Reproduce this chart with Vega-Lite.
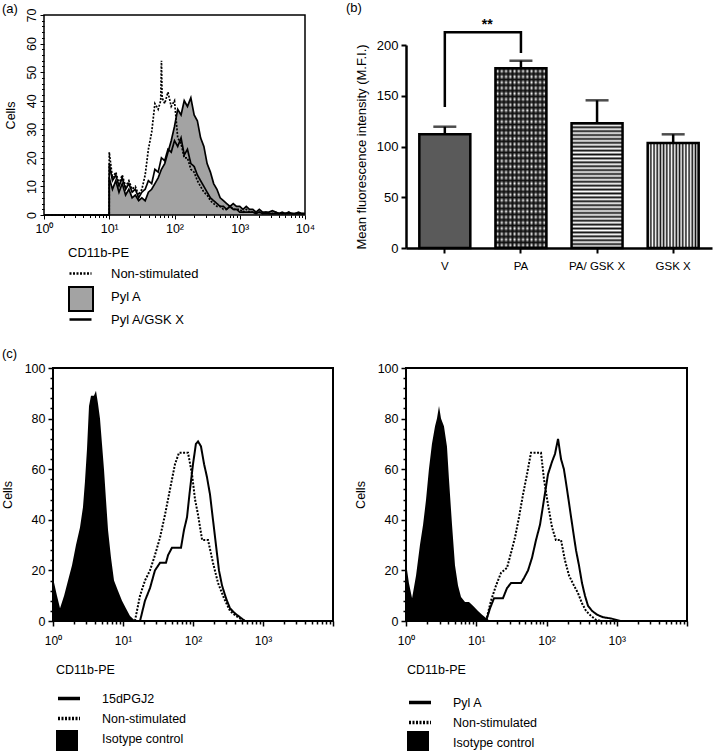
{
"$schema": "https://vega.github.io/schema/vega-lite/v6.json",
"autosize": {"type": "none"},
"padding": {"left": 44, "top": 15, "right": 672, "bottom": 736},
"background": "white",
"config": {
  "font": "Liberation Sans",
  "view": {"stroke": null},
  "axis": {"grid": false, "domainColor": "black", "tickColor": "black", "labelColor": "black", "titleColor": "black", "titleFontWeight": "normal", "labelOverlap": false, "labelFlush": false},
  "legend": {"padding": 0, "labelColor": "black", "titleColor": "black", "titleFontWeight": "normal"},
  "title": {"fontWeight": "normal", "color": "black", "fontSize": 13, "anchor": "start", "frame": "group", "offset": 0}
},
"columns": 2,
"align": "each",
"spacing": {"row": 120, "column": 73},
"bounds": "flush",
"resolve": {"scale": {"strokeDash": "independent", "fill": "independent"}, "legend": {"strokeDash": "independent", "fill": "independent"}},
"concat": [
 {
  "width": 261, "height": 200,
  "title": {"text": "(a)", "dx": -42, "dy": 12},
  "data": {"values": [
   {"s":"Non-stimulated","x":1,"y":0},{"s":"Non-stimulated","x":9.99,"y":0},{"s":"Non-stimulated","x":10,"y":22},{"s":"Non-stimulated","x":11.2,"y":13},{"s":"Non-stimulated","x":12.6,"y":15},{"s":"Non-stimulated","x":14.1,"y":11},{"s":"Non-stimulated","x":15.8,"y":14},{"s":"Non-stimulated","x":17.8,"y":10},{"s":"Non-stimulated","x":20,"y":12},{"s":"Non-stimulated","x":22.4,"y":9},{"s":"Non-stimulated","x":25.1,"y":10},{"s":"Non-stimulated","x":28.2,"y":7},{"s":"Non-stimulated","x":31.6,"y":9},{"s":"Non-stimulated","x":35.5,"y":14},{"s":"Non-stimulated","x":39.8,"y":23},{"s":"Non-stimulated","x":44.7,"y":29},{"s":"Non-stimulated","x":50.1,"y":39},{"s":"Non-stimulated","x":56.2,"y":37},{"s":"Non-stimulated","x":61.5,"y":40},{"s":"Non-stimulated","x":63.1,"y":54},{"s":"Non-stimulated","x":64.6,"y":41},{"s":"Non-stimulated","x":70.8,"y":39},{"s":"Non-stimulated","x":79.4,"y":43},{"s":"Non-stimulated","x":89.1,"y":38},{"s":"Non-stimulated","x":100,"y":40},{"s":"Non-stimulated","x":112,"y":27},{"s":"Non-stimulated","x":126,"y":25},{"s":"Non-stimulated","x":141,"y":20},{"s":"Non-stimulated","x":158,"y":20},{"s":"Non-stimulated","x":178,"y":16},{"s":"Non-stimulated","x":200,"y":15},{"s":"Non-stimulated","x":224,"y":12},{"s":"Non-stimulated","x":251,"y":10},{"s":"Non-stimulated","x":282,"y":8},{"s":"Non-stimulated","x":316,"y":7},{"s":"Non-stimulated","x":355,"y":5},{"s":"Non-stimulated","x":398,"y":4},{"s":"Non-stimulated","x":447,"y":3},{"s":"Non-stimulated","x":501,"y":3},{"s":"Non-stimulated","x":562,"y":2},{"s":"Non-stimulated","x":631,"y":2},{"s":"Non-stimulated","x":708,"y":3},{"s":"Non-stimulated","x":794,"y":2},{"s":"Non-stimulated","x":891,"y":2},{"s":"Non-stimulated","x":1000,"y":2},{"s":"Non-stimulated","x":1122,"y":1},{"s":"Non-stimulated","x":1259,"y":2},{"s":"Non-stimulated","x":1413,"y":1},{"s":"Non-stimulated","x":1585,"y":1},{"s":"Non-stimulated","x":1778,"y":1},{"s":"Non-stimulated","x":1995,"y":1},{"s":"Non-stimulated","x":2239,"y":0.5},{"s":"Non-stimulated","x":2512,"y":1},{"s":"Non-stimulated","x":2818,"y":0.5},{"s":"Non-stimulated","x":3162,"y":0.5},{"s":"Non-stimulated","x":3548,"y":1},{"s":"Non-stimulated","x":3981,"y":0.5},{"s":"Non-stimulated","x":4467,"y":0.5},{"s":"Non-stimulated","x":5012,"y":0.5},{"s":"Non-stimulated","x":5623,"y":1},{"s":"Non-stimulated","x":6310,"y":0.5},{"s":"Non-stimulated","x":7079,"y":0.5},{"s":"Non-stimulated","x":7943,"y":0.5},{"s":"Non-stimulated","x":8913,"y":0.5},{"s":"Non-stimulated","x":10000,"y":0.5},
   {"s":"Pyl A","x":1,"y":0},{"s":"Pyl A","x":9.99,"y":0},{"s":"Pyl A","x":10,"y":13},{"s":"Pyl A","x":11.2,"y":9},{"s":"Pyl A","x":12.6,"y":12},{"s":"Pyl A","x":14.1,"y":8},{"s":"Pyl A","x":15.8,"y":11},{"s":"Pyl A","x":17.8,"y":7},{"s":"Pyl A","x":20,"y":9},{"s":"Pyl A","x":22.4,"y":6},{"s":"Pyl A","x":25.1,"y":7},{"s":"Pyl A","x":28.2,"y":5},{"s":"Pyl A","x":31.6,"y":6},{"s":"Pyl A","x":35.5,"y":5},{"s":"Pyl A","x":39.8,"y":8},{"s":"Pyl A","x":44.7,"y":9},{"s":"Pyl A","x":50.1,"y":11},{"s":"Pyl A","x":56.2,"y":13},{"s":"Pyl A","x":63.1,"y":16},{"s":"Pyl A","x":70.8,"y":18},{"s":"Pyl A","x":79.4,"y":22},{"s":"Pyl A","x":89.1,"y":26},{"s":"Pyl A","x":100,"y":31},{"s":"Pyl A","x":112,"y":37},{"s":"Pyl A","x":126,"y":35},{"s":"Pyl A","x":141,"y":40},{"s":"Pyl A","x":158,"y":38},{"s":"Pyl A","x":178,"y":41},{"s":"Pyl A","x":200,"y":35},{"s":"Pyl A","x":224,"y":33},{"s":"Pyl A","x":251,"y":27},{"s":"Pyl A","x":282,"y":24},{"s":"Pyl A","x":316,"y":18},{"s":"Pyl A","x":355,"y":15},{"s":"Pyl A","x":398,"y":11},{"s":"Pyl A","x":447,"y":9},{"s":"Pyl A","x":501,"y":6},{"s":"Pyl A","x":562,"y":5},{"s":"Pyl A","x":631,"y":4},{"s":"Pyl A","x":708,"y":3},{"s":"Pyl A","x":794,"y":4},{"s":"Pyl A","x":891,"y":3},{"s":"Pyl A","x":1000,"y":3},{"s":"Pyl A","x":1122,"y":2},{"s":"Pyl A","x":1259,"y":3},{"s":"Pyl A","x":1413,"y":2},{"s":"Pyl A","x":1585,"y":2},{"s":"Pyl A","x":1778,"y":1},{"s":"Pyl A","x":1995,"y":2},{"s":"Pyl A","x":2239,"y":1},{"s":"Pyl A","x":2512,"y":1},{"s":"Pyl A","x":2818,"y":1},{"s":"Pyl A","x":3162,"y":1.5},{"s":"Pyl A","x":3548,"y":1},{"s":"Pyl A","x":3981,"y":0.5},{"s":"Pyl A","x":4467,"y":1},{"s":"Pyl A","x":5012,"y":0.5},{"s":"Pyl A","x":5623,"y":1},{"s":"Pyl A","x":6310,"y":0.5},{"s":"Pyl A","x":7079,"y":0.5},{"s":"Pyl A","x":7943,"y":1},{"s":"Pyl A","x":8913,"y":0.5},{"s":"Pyl A","x":10000,"y":0.5},
   {"s":"Pyl A/GSK X","x":1,"y":0},{"s":"Pyl A/GSK X","x":9.99,"y":0},{"s":"Pyl A/GSK X","x":10,"y":18},{"s":"Pyl A/GSK X","x":11.2,"y":12},{"s":"Pyl A/GSK X","x":12.6,"y":14},{"s":"Pyl A/GSK X","x":14.1,"y":10},{"s":"Pyl A/GSK X","x":15.8,"y":13},{"s":"Pyl A/GSK X","x":17.8,"y":9},{"s":"Pyl A/GSK X","x":20,"y":11},{"s":"Pyl A/GSK X","x":22.4,"y":8},{"s":"Pyl A/GSK X","x":25.1,"y":9},{"s":"Pyl A/GSK X","x":28.2,"y":6},{"s":"Pyl A/GSK X","x":31.6,"y":8},{"s":"Pyl A/GSK X","x":35.5,"y":9},{"s":"Pyl A/GSK X","x":39.8,"y":12},{"s":"Pyl A/GSK X","x":44.7,"y":11},{"s":"Pyl A/GSK X","x":50.1,"y":16},{"s":"Pyl A/GSK X","x":56.2,"y":15},{"s":"Pyl A/GSK X","x":63.1,"y":20},{"s":"Pyl A/GSK X","x":70.8,"y":19},{"s":"Pyl A/GSK X","x":79.4,"y":23},{"s":"Pyl A/GSK X","x":89.1,"y":22},{"s":"Pyl A/GSK X","x":100,"y":26},{"s":"Pyl A/GSK X","x":112,"y":24},{"s":"Pyl A/GSK X","x":126,"y":27},{"s":"Pyl A/GSK X","x":141,"y":21},{"s":"Pyl A/GSK X","x":158,"y":23},{"s":"Pyl A/GSK X","x":178,"y":18},{"s":"Pyl A/GSK X","x":200,"y":17},{"s":"Pyl A/GSK X","x":224,"y":14},{"s":"Pyl A/GSK X","x":251,"y":12},{"s":"Pyl A/GSK X","x":282,"y":10},{"s":"Pyl A/GSK X","x":316,"y":8},{"s":"Pyl A/GSK X","x":355,"y":6},{"s":"Pyl A/GSK X","x":398,"y":5},{"s":"Pyl A/GSK X","x":447,"y":4},{"s":"Pyl A/GSK X","x":501,"y":3},{"s":"Pyl A/GSK X","x":562,"y":3},{"s":"Pyl A/GSK X","x":631,"y":2},{"s":"Pyl A/GSK X","x":708,"y":3},{"s":"Pyl A/GSK X","x":794,"y":2},{"s":"Pyl A/GSK X","x":891,"y":2},{"s":"Pyl A/GSK X","x":1000,"y":1},{"s":"Pyl A/GSK X","x":1122,"y":1},{"s":"Pyl A/GSK X","x":1259,"y":1},{"s":"Pyl A/GSK X","x":1413,"y":1},{"s":"Pyl A/GSK X","x":1585,"y":1},{"s":"Pyl A/GSK X","x":1778,"y":0.5},{"s":"Pyl A/GSK X","x":1995,"y":1},{"s":"Pyl A/GSK X","x":2239,"y":0.5},{"s":"Pyl A/GSK X","x":2512,"y":0.5},{"s":"Pyl A/GSK X","x":2818,"y":0.5},{"s":"Pyl A/GSK X","x":3162,"y":0.5},{"s":"Pyl A/GSK X","x":3548,"y":0.5},{"s":"Pyl A/GSK X","x":3981,"y":0.5},{"s":"Pyl A/GSK X","x":4467,"y":0.5},{"s":"Pyl A/GSK X","x":5012,"y":0.5},{"s":"Pyl A/GSK X","x":5623,"y":0.5},{"s":"Pyl A/GSK X","x":6310,"y":0.5},{"s":"Pyl A/GSK X","x":7079,"y":0.5},{"s":"Pyl A/GSK X","x":7943,"y":0.5},{"s":"Pyl A/GSK X","x":8913,"y":0.5},{"s":"Pyl A/GSK X","x":10000,"y":0.5}
  ]},
  "encoding": {
   "x": {"field": "x", "type": "quantitative", "title": null, "scale": {"type": "log", "domain": [1, 10000], "nice": false},
     "axis": {"values": [1,2,3,4,5,6,7,8,9,10,20,30,40,50,60,70,80,90,100,200,300,400,500,600,700,800,900,1000,2000,3000,4000,5000,6000,7000,8000,9000,10000],
       "labelExpr": "datum.value == 1 ? '10⁰' : datum.value == 10 ? '10¹' : datum.value == 100 ? '10²' : datum.value == 1000 ? '10³' : datum.value == 10000 ? '10⁴' : ''",
       "tickSize": {"condition": {"test": "datum.value == 1 || datum.value == 10 || datum.value == 100 || datum.value == 1000 || datum.value == 10000", "value": 4}, "value": 2.5},
       "tickWidth": 1, "domain": false, "labelFontSize": 12.5, "labelPadding": 3}},
   "y": {"field": "y", "type": "quantitative", "title": "Cells", "scale": {"domain": [0, 70], "nice": false},
     "axis": {"values": [0,2,4,6,8,10,12,14,16,18,20,22,24,26,28,30,32,34,36,38,40,42,44,46,48,50,52,54,56,58,60,62,64,66,68,70],
       "labelExpr": "datum.value % 10 == 0 ? datum.label : ''",
       "labelAngle": -90, "labelAlign": "center", "labelBaseline": "bottom",
       "tickSize": {"condition": {"test": "datum.value % 10 == 0", "value": 4}, "value": 2.5},
       "tickWidth": 1, "domain": false, "labelFontSize": 12.5, "labelPadding": 2, "titleFontSize": 12.5, "titlePadding": 8}}
  },
  "layer": [
   {"transform": [{"filter": "datum.s == 'Pyl A'"}], "mark": {"type": "area", "opacity": 1},
    "encoding": {"fill": {"field": "s", "type": "nominal", "scale": {"domain": ["Pyl A"], "range": ["#a3a3a3"]},
      "legend": {"title": null, "orient": "none", "legendX": 24, "legendY": 271, "symbolType": "square", "symbolSize": 576, "symbolStrokeColor": "black", "symbolStrokeWidth": 2, "labelExpr": "''", "labelFontSize": 13}}}},
   {"transform": [{"filter": "datum.s == 'Pyl A'"}], "mark": {"type": "line", "color": "black", "strokeWidth": 1.7}},
   {"transform": [{"filter": "datum.s != 'Pyl A'"}], "mark": {"type": "line", "color": "black", "strokeWidth": 1.7},
    "encoding": {"strokeDash": {"field": "s", "type": "nominal",
      "scale": {"domain": ["Non-stimulated", "Pyl A", "Pyl A/GSK X"], "range": [[2, 1.5], [0, 100], [1, 0]]},
      "legend": {"title": "CD11b-PE", "orient": "none", "legendX": 24, "legendY": 232, "symbolType": "stroke", "symbolSize": 484, "symbolStrokeWidth": 2.5, "symbolStrokeColor": "black", "labelFontSize": 13, "titleFontSize": 13, "titlePadding": 1, "rowPadding": 3, "labelOffset": 18}}}},
   {"data": {"values": [{"x0": 1, "x1": 10000, "y0": 0, "y1": 70}]},
    "mark": {"type": "rect", "fill": "transparent", "stroke": "black", "strokeWidth": 1.5},
    "encoding": {"x": {"field": "x0", "type": "quantitative", "title": null}, "x2": {"field": "x1"}, "y": {"field": "y0", "type": "quantitative", "title": "Cells"}, "y2": {"field": "y1"}}}
  ]
 },
 {
  "width": 306, "height": 233,
  "title": {"text": "(b)", "dx": -60, "dy": 4},
  "data": {"values": [{"g":"V","m":112,"u":119.5},{"g":"PA","m":177,"u":184.5},{"g":"PA/ GSK X","m":122.8,"u":145.5},{"g":"GSK X","m":103.5,"u":112}]},
  "encoding": {
   "x": {"field": "g", "type": "nominal", "title": null, "sort": null, "scale": {"domain": ["V", "PA", "PA/ GSK X", "GSK X"], "paddingInner": 0.33, "paddingOuter": 0.175},
     "axis": {"labelAngle": 0, "labelFontSize": 11.5, "labelPadding": 7, "tickSize": 5, "tickWidth": 2, "domainWidth": 2.5}}
  },
  "layer": [
   {"transform": [{"filter": "datum.g == 'V'"}], "mark": {"type": "bar", "fill": "#5a5a5a", "stroke": "black", "strokeWidth": 2.5},
    "encoding": {"y": {"field": "m", "type": "quantitative", "title": "Mean fluorescence intensity (M.F.I.)", "scale": {"domain": [0, 200], "range": [233, 30], "nice": false},
      "axis": {"values": [0, 50, 100, 150, 200], "tickSize": 5, "tickWidth": 2, "domainWidth": 2.5, "labelFontSize": 13, "labelPadding": 3, "titleFontSize": 13, "titlePadding": 8}}}},
   {"transform": [{"filter": "datum.g == 'PA'"}], "mark": {"type": "bar", "strokeWidth": 0, "fill": {"gradient": "linear", "x1": 0, "y1": 0, "x2": 0, "y2": 1, "stops": [
     {"offset":0,"color":"#111"},{"offset":0.0156,"color":"#fff"},{"offset":0.0313,"color":"#111"},{"offset":0.0469,"color":"#fff"},{"offset":0.0625,"color":"#111"},{"offset":0.0781,"color":"#fff"},{"offset":0.0938,"color":"#111"},{"offset":0.1094,"color":"#fff"},{"offset":0.125,"color":"#111"},{"offset":0.1406,"color":"#fff"},{"offset":0.1563,"color":"#111"},{"offset":0.1719,"color":"#fff"},{"offset":0.1875,"color":"#111"},{"offset":0.2031,"color":"#fff"},{"offset":0.2188,"color":"#111"},{"offset":0.2344,"color":"#fff"},{"offset":0.25,"color":"#111"},{"offset":0.2656,"color":"#fff"},{"offset":0.2813,"color":"#111"},{"offset":0.2969,"color":"#fff"},{"offset":0.3125,"color":"#111"},{"offset":0.3281,"color":"#fff"},{"offset":0.3438,"color":"#111"},{"offset":0.3594,"color":"#fff"},{"offset":0.375,"color":"#111"},{"offset":0.3906,"color":"#fff"},{"offset":0.4063,"color":"#111"},{"offset":0.4219,"color":"#fff"},{"offset":0.4375,"color":"#111"},{"offset":0.4531,"color":"#fff"},{"offset":0.4688,"color":"#111"},{"offset":0.4844,"color":"#fff"},{"offset":0.5,"color":"#111"},{"offset":0.5156,"color":"#fff"},{"offset":0.5313,"color":"#111"},{"offset":0.5469,"color":"#fff"},{"offset":0.5625,"color":"#111"},{"offset":0.5781,"color":"#fff"},{"offset":0.5938,"color":"#111"},{"offset":0.6094,"color":"#fff"},{"offset":0.625,"color":"#111"},{"offset":0.6406,"color":"#fff"},{"offset":0.6563,"color":"#111"},{"offset":0.6719,"color":"#fff"},{"offset":0.6875,"color":"#111"},{"offset":0.7031,"color":"#fff"},{"offset":0.7188,"color":"#111"},{"offset":0.7344,"color":"#fff"},{"offset":0.75,"color":"#111"},{"offset":0.7656,"color":"#fff"},{"offset":0.7813,"color":"#111"},{"offset":0.7969,"color":"#fff"},{"offset":0.8125,"color":"#111"},{"offset":0.8281,"color":"#fff"},{"offset":0.8438,"color":"#111"},{"offset":0.8594,"color":"#fff"},{"offset":0.875,"color":"#111"},{"offset":0.8906,"color":"#fff"},{"offset":0.9063,"color":"#111"},{"offset":0.9219,"color":"#fff"},{"offset":0.9375,"color":"#111"},{"offset":0.9531,"color":"#fff"},{"offset":0.9688,"color":"#111"},{"offset":0.9844,"color":"#fff"},{"offset":1,"color":"#111"}]}},
    "encoding": {"y": {"field": "m", "type": "quantitative", "title": "Mean fluorescence intensity (M.F.I.)"}}},
   {"transform": [{"filter": "datum.g == 'PA'"}], "mark": {"type": "bar", "stroke": "black", "strokeWidth": 2.5, "fill": {"gradient": "linear", "x1": 0, "y1": 0, "x2": 1, "y2": 0, "stops": [
     {"offset":0,"color":"#111"},{"offset":0.0417,"color":"rgba(0,0,0,0)"},{"offset":0.0833,"color":"#111"},{"offset":0.125,"color":"rgba(0,0,0,0)"},{"offset":0.1667,"color":"#111"},{"offset":0.2083,"color":"rgba(0,0,0,0)"},{"offset":0.25,"color":"#111"},{"offset":0.2917,"color":"rgba(0,0,0,0)"},{"offset":0.3333,"color":"#111"},{"offset":0.375,"color":"rgba(0,0,0,0)"},{"offset":0.4167,"color":"#111"},{"offset":0.4583,"color":"rgba(0,0,0,0)"},{"offset":0.5,"color":"#111"},{"offset":0.5417,"color":"rgba(0,0,0,0)"},{"offset":0.5833,"color":"#111"},{"offset":0.625,"color":"rgba(0,0,0,0)"},{"offset":0.6667,"color":"#111"},{"offset":0.7083,"color":"rgba(0,0,0,0)"},{"offset":0.75,"color":"#111"},{"offset":0.7917,"color":"rgba(0,0,0,0)"},{"offset":0.8333,"color":"#111"},{"offset":0.875,"color":"rgba(0,0,0,0)"},{"offset":0.9167,"color":"#111"},{"offset":0.9583,"color":"rgba(0,0,0,0)"},{"offset":1,"color":"#111"}]}},
    "encoding": {"y": {"field": "m", "type": "quantitative", "title": "Mean fluorescence intensity (M.F.I.)"}}},
   {"transform": [{"filter": "datum.g == 'PA/ GSK X'"}], "mark": {"type": "bar", "stroke": "black", "strokeWidth": 2.5, "fill": {"gradient": "linear", "x1": 0, "y1": 0, "x2": 0, "y2": 1, "stops": [
     {"offset":0,"color":"#111"},{"offset":0.0156,"color":"#fff"},{"offset":0.0313,"color":"#111"},{"offset":0.0469,"color":"#fff"},{"offset":0.0625,"color":"#111"},{"offset":0.0781,"color":"#fff"},{"offset":0.0938,"color":"#111"},{"offset":0.1094,"color":"#fff"},{"offset":0.125,"color":"#111"},{"offset":0.1406,"color":"#fff"},{"offset":0.1563,"color":"#111"},{"offset":0.1719,"color":"#fff"},{"offset":0.1875,"color":"#111"},{"offset":0.2031,"color":"#fff"},{"offset":0.2188,"color":"#111"},{"offset":0.2344,"color":"#fff"},{"offset":0.25,"color":"#111"},{"offset":0.2656,"color":"#fff"},{"offset":0.2813,"color":"#111"},{"offset":0.2969,"color":"#fff"},{"offset":0.3125,"color":"#111"},{"offset":0.3281,"color":"#fff"},{"offset":0.3438,"color":"#111"},{"offset":0.3594,"color":"#fff"},{"offset":0.375,"color":"#111"},{"offset":0.3906,"color":"#fff"},{"offset":0.4063,"color":"#111"},{"offset":0.4219,"color":"#fff"},{"offset":0.4375,"color":"#111"},{"offset":0.4531,"color":"#fff"},{"offset":0.4688,"color":"#111"},{"offset":0.4844,"color":"#fff"},{"offset":0.5,"color":"#111"},{"offset":0.5156,"color":"#fff"},{"offset":0.5313,"color":"#111"},{"offset":0.5469,"color":"#fff"},{"offset":0.5625,"color":"#111"},{"offset":0.5781,"color":"#fff"},{"offset":0.5938,"color":"#111"},{"offset":0.6094,"color":"#fff"},{"offset":0.625,"color":"#111"},{"offset":0.6406,"color":"#fff"},{"offset":0.6563,"color":"#111"},{"offset":0.6719,"color":"#fff"},{"offset":0.6875,"color":"#111"},{"offset":0.7031,"color":"#fff"},{"offset":0.7188,"color":"#111"},{"offset":0.7344,"color":"#fff"},{"offset":0.75,"color":"#111"},{"offset":0.7656,"color":"#fff"},{"offset":0.7813,"color":"#111"},{"offset":0.7969,"color":"#fff"},{"offset":0.8125,"color":"#111"},{"offset":0.8281,"color":"#fff"},{"offset":0.8438,"color":"#111"},{"offset":0.8594,"color":"#fff"},{"offset":0.875,"color":"#111"},{"offset":0.8906,"color":"#fff"},{"offset":0.9063,"color":"#111"},{"offset":0.9219,"color":"#fff"},{"offset":0.9375,"color":"#111"},{"offset":0.9531,"color":"#fff"},{"offset":0.9688,"color":"#111"},{"offset":0.9844,"color":"#fff"},{"offset":1,"color":"#111"}]}},
    "encoding": {"y": {"field": "m", "type": "quantitative", "title": "Mean fluorescence intensity (M.F.I.)"}}},
   {"transform": [{"filter": "datum.g == 'GSK X'"}], "mark": {"type": "bar", "stroke": "black", "strokeWidth": 2.5, "fill": {"gradient": "linear", "x1": 0, "y1": 0, "x2": 1, "y2": 0, "stops": [
     {"offset":0,"color":"#111"},{"offset":0.0313,"color":"#fff"},{"offset":0.0625,"color":"#111"},{"offset":0.0938,"color":"#fff"},{"offset":0.125,"color":"#111"},{"offset":0.1563,"color":"#fff"},{"offset":0.1875,"color":"#111"},{"offset":0.2188,"color":"#fff"},{"offset":0.25,"color":"#111"},{"offset":0.2813,"color":"#fff"},{"offset":0.3125,"color":"#111"},{"offset":0.3438,"color":"#fff"},{"offset":0.375,"color":"#111"},{"offset":0.4063,"color":"#fff"},{"offset":0.4375,"color":"#111"},{"offset":0.4688,"color":"#fff"},{"offset":0.5,"color":"#111"},{"offset":0.5313,"color":"#fff"},{"offset":0.5625,"color":"#111"},{"offset":0.5938,"color":"#fff"},{"offset":0.625,"color":"#111"},{"offset":0.6563,"color":"#fff"},{"offset":0.6875,"color":"#111"},{"offset":0.7188,"color":"#fff"},{"offset":0.75,"color":"#111"},{"offset":0.7813,"color":"#fff"},{"offset":0.8125,"color":"#111"},{"offset":0.8438,"color":"#fff"},{"offset":0.875,"color":"#111"},{"offset":0.9063,"color":"#fff"},{"offset":0.9375,"color":"#111"},{"offset":0.9688,"color":"#fff"},{"offset":1,"color":"#111"}]}},
    "encoding": {"y": {"field": "m", "type": "quantitative", "title": "Mean fluorescence intensity (M.F.I.)"}}},
   {"mark": {"type": "rule", "color": "black", "strokeWidth": 2.5},
    "encoding": {"y": {"field": "m", "type": "quantitative", "title": "Mean fluorescence intensity (M.F.I.)"}, "y2": {"field": "u"}}},
   {"mark": {"type": "tick", "orient": "horizontal", "color": "black", "size": 23, "thickness": 2.5},
    "encoding": {"y": {"field": "u", "type": "quantitative", "title": "Mean fluorescence intensity (M.F.I.)"}}},
   {"data": {"values": [{"g":"V","v":139,"i":0},{"g":"V","v":212.5,"i":1},{"g":"PA","v":212.5,"i":2},{"g":"PA","v":192,"i":3}]},
    "mark": {"type": "line", "color": "black", "strokeWidth": 2.5},
    "encoding": {"y": {"field": "v", "type": "quantitative", "title": "Mean fluorescence intensity (M.F.I.)"}, "order": {"field": "i"}}},
   {"data": {"values": [{"g":"V","v":220,"t":"**"}]},
    "mark": {"type": "text", "fontSize": 14, "fontWeight": "bold", "color": "black"},
    "encoding": {"x": {"field": "g", "type": "nominal", "title": null, "bandPosition": 1.33}, "y": {"field": "v", "type": "quantitative", "title": "Mean fluorescence intensity (M.F.I.)"}, "text": {"field": "t"}}}
  ]
 },
 {
  "width": 289, "height": 253,
  "title": {"text": "(c)", "dx": -42, "dy": 3},
  "data": {"values": [
   {"s":"Isotype control","x":1,"y":17},{"s":"Isotype control","x":1.14,"y":10},{"s":"Isotype control","x":1.26,"y":5},{"s":"Isotype control","x":1.44,"y":10},{"s":"Isotype control","x":1.64,"y":16},{"s":"Isotype control","x":1.87,"y":22},{"s":"Isotype control","x":2.13,"y":30},{"s":"Isotype control","x":2.43,"y":37},{"s":"Isotype control","x":2.68,"y":45},{"s":"Isotype control","x":2.86,"y":55},{"s":"Isotype control","x":3.06,"y":68},{"s":"Isotype control","x":3.27,"y":85},{"s":"Isotype control","x":3.49,"y":89},{"s":"Isotype control","x":3.85,"y":89},{"s":"Isotype control","x":4.11,"y":91},{"s":"Isotype control","x":4.39,"y":86},{"s":"Isotype control","x":4.69,"y":80},{"s":"Isotype control","x":5.01,"y":70},{"s":"Isotype control","x":5.35,"y":60},{"s":"Isotype control","x":5.71,"y":48},{"s":"Isotype control","x":6.11,"y":36},{"s":"Isotype control","x":6.74,"y":25},{"s":"Isotype control","x":7.44,"y":16},{"s":"Isotype control","x":8.48,"y":12},{"s":"Isotype control","x":9.68,"y":8},{"s":"Isotype control","x":11,"y":5},{"s":"Isotype control","x":12.6,"y":2},{"s":"Isotype control","x":14.4,"y":0.5},{"s":"Isotype control","x":16.4,"y":0},
   {"s":"Non-stimulated","x":14.8,"y":0},{"s":"Non-stimulated","x":17.5,"y":10},{"s":"Non-stimulated","x":20.6,"y":16},{"s":"Non-stimulated","x":24.3,"y":20},{"s":"Non-stimulated","x":28.6,"y":26},{"s":"Non-stimulated","x":33.8,"y":33},{"s":"Non-stimulated","x":39.8,"y":42},{"s":"Non-stimulated","x":46.9,"y":52},{"s":"Non-stimulated","x":55.3,"y":62},{"s":"Non-stimulated","x":63.1,"y":66.5},{"s":"Non-stimulated","x":84.9,"y":66.5},{"s":"Non-stimulated","x":96.8,"y":58},{"s":"Non-stimulated","x":107,"y":48},{"s":"Non-stimulated","x":118,"y":42},{"s":"Non-stimulated","x":135,"y":32},{"s":"Non-stimulated","x":164,"y":32},{"s":"Non-stimulated","x":193,"y":23},{"s":"Non-stimulated","x":228,"y":15},{"s":"Non-stimulated","x":277,"y":9},{"s":"Non-stimulated","x":338,"y":4},{"s":"Non-stimulated","x":411,"y":2},{"s":"Non-stimulated","x":501,"y":0.5},{"s":"Non-stimulated","x":571,"y":0},
   {"s":"15dPGJ2","x":17.5,"y":0},{"s":"15dPGJ2","x":20.6,"y":8},{"s":"15dPGJ2","x":24.3,"y":13},{"s":"15dPGJ2","x":28.6,"y":20},{"s":"15dPGJ2","x":33.8,"y":23},{"s":"15dPGJ2","x":41.1,"y":23},{"s":"15dPGJ2","x":44,"y":26},{"s":"15dPGJ2","x":50.1,"y":29},{"s":"15dPGJ2","x":67.4,"y":29},{"s":"15dPGJ2","x":74.4,"y":36},{"s":"15dPGJ2","x":82.1,"y":41},{"s":"15dPGJ2","x":90.6,"y":52},{"s":"15dPGJ2","x":100,"y":62},{"s":"15dPGJ2","x":110,"y":70},{"s":"15dPGJ2","x":118,"y":71},{"s":"15dPGJ2","x":130,"y":69},{"s":"15dPGJ2","x":144,"y":62},{"s":"15dPGJ2","x":158,"y":57},{"s":"15dPGJ2","x":175,"y":50},{"s":"15dPGJ2","x":193,"y":40},{"s":"15dPGJ2","x":213,"y":30},{"s":"15dPGJ2","x":235,"y":20},{"s":"15dPGJ2","x":260,"y":14},{"s":"15dPGJ2","x":296,"y":9},{"s":"15dPGJ2","x":338,"y":5},{"s":"15dPGJ2","x":398,"y":3},{"s":"15dPGJ2","x":469,"y":1.5},{"s":"15dPGJ2","x":553,"y":0}
  ]},
  "encoding": {
   "x": {"field": "x", "type": "quantitative", "title": null, "scale": {"type": "log", "domain": [1, 10000], "range": [9, 289], "nice": false},
     "axis": {"values": [1,2,3,4,5,6,7,8,9,10,20,30,40,50,60,70,80,90,100,200,300,400,500,600,700,800,900,1000,2000,3000,4000,5000,6000,7000,8000,9000,10000],
       "labelExpr": "datum.value == 1 ? '10⁰' : datum.value == 10 ? '10¹' : datum.value == 100 ? '10²' : datum.value == 1000 ? '10³' : ''",
       "tickSize": {"condition": {"test": "datum.value == 1 || datum.value == 10 || datum.value == 100 || datum.value == 1000 || datum.value == 10000", "value": 5}, "value": 3},
       "tickWidth": 1.5, "domain": false, "labelFontSize": 12, "labelPadding": 9}},
   "y": {"field": "y", "type": "quantitative", "title": "Cells", "scale": {"domain": [0, 100], "nice": false},
     "axis": {"offset": -9, "values": [0,4,8,12,16,20,24,28,32,36,40,44,48,52,56,60,64,68,72,76,80,84,88,92,96,100],
       "labelExpr": "datum.value % 20 == 0 ? datum.label : ''",
       "tickSize": {"condition": {"test": "datum.value % 20 == 0", "value": 5}, "value": 3},
       "tickWidth": 1.5, "domain": false, "labelFontSize": 12.5, "labelPadding": 3, "titleFontSize": 12.5, "titlePadding": 10}}
  },
  "layer": [
   {"transform": [{"filter": "datum.s == 'Isotype control'"}], "mark": {"type": "area", "opacity": 1},
    "encoding": {"fill": {"field": "s", "type": "nominal", "scale": {"domain": ["Isotype control"], "range": ["black"]},
      "legend": {"title": null, "orient": "none", "legendX": 12, "legendY": 362, "symbolType": "square", "symbolSize": 484, "symbolStrokeColor": "black", "symbolStrokeWidth": 0, "labelExpr": "''", "labelFontSize": 12.5}}}},
   {"transform": [{"filter": "datum.s != 'Isotype control'"}], "mark": {"type": "line", "color": "black", "strokeWidth": 2},
    "encoding": {"strokeDash": {"field": "s", "type": "nominal",
      "scale": {"domain": ["15dPGJ2", "Non-stimulated", "Isotype control"], "range": [[1, 0], [2, 1.5], [0, 100]]},
      "legend": {"title": "CD11b-PE", "orient": "none", "legendX": 12, "legendY": 296, "symbolType": "stroke", "symbolSize": 484, "symbolStrokeWidth": 3.5, "symbolStrokeColor": "black", "labelFontSize": 12.5, "titleFontSize": 12.5, "titlePadding": 9, "rowPadding": -2, "labelOffset": 20}}}},
   {"data": {"values": [{"x0": 1, "x1": 10000, "y0": 0, "y1": 100}]},
    "mark": {"type": "rect", "fill": "transparent", "stroke": "black", "strokeWidth": 2},
    "encoding": {"x": {"field": "x0", "type": "quantitative", "title": null}, "x2": {"field": "x1"}, "y": {"field": "y0", "type": "quantitative", "title": "Cells"}, "y2": {"field": "y1"}}}
  ]
 },
 {
  "width": 281, "height": 253,
  "data": {"values": [
   {"s":"Isotype control","x":1,"y":23},{"s":"Isotype control","x":1.1,"y":15},{"s":"Isotype control","x":1.22,"y":9},{"s":"Isotype control","x":1.39,"y":18},{"s":"Isotype control","x":1.58,"y":30},{"s":"Isotype control","x":1.75,"y":38},{"s":"Isotype control","x":1.93,"y":48},{"s":"Isotype control","x":2.12,"y":60},{"s":"Isotype control","x":2.34,"y":70},{"s":"Isotype control","x":2.59,"y":77},{"s":"Isotype control","x":2.76,"y":80},{"s":"Isotype control","x":2.95,"y":85},{"s":"Isotype control","x":3.15,"y":80},{"s":"Isotype control","x":3.47,"y":77},{"s":"Isotype control","x":3.83,"y":69},{"s":"Isotype control","x":4.09,"y":56},{"s":"Isotype control","x":4.52,"y":38},{"s":"Isotype control","x":4.98,"y":22},{"s":"Isotype control","x":5.5,"y":14},{"s":"Isotype control","x":6.07,"y":9.5},{"s":"Isotype control","x":6.92,"y":7.5},{"s":"Isotype control","x":7.88,"y":7.5},{"s":"Isotype control","x":8.99,"y":6},{"s":"Isotype control","x":10.6,"y":4},{"s":"Isotype control","x":12.1,"y":2.5},{"s":"Isotype control","x":13.8,"y":1.2},{"s":"Isotype control","x":15.7,"y":0},
   {"s":"Non-stimulated","x":13.8,"y":0},{"s":"Non-stimulated","x":16.2,"y":8},{"s":"Non-stimulated","x":19.1,"y":14},{"s":"Non-stimulated","x":22.5,"y":19},{"s":"Non-stimulated","x":27.4,"y":21},{"s":"Non-stimulated","x":31.3,"y":27},{"s":"Non-stimulated","x":35.6,"y":33},{"s":"Non-stimulated","x":40.6,"y":41},{"s":"Non-stimulated","x":46.3,"y":50},{"s":"Non-stimulated","x":52.8,"y":58},{"s":"Non-stimulated","x":60.1,"y":66.5},{"s":"Non-stimulated","x":83.5,"y":66.5},{"s":"Non-stimulated","x":92.1,"y":56},{"s":"Non-stimulated","x":105,"y":46},{"s":"Non-stimulated","x":120,"y":37},{"s":"Non-stimulated","x":136,"y":32},{"s":"Non-stimulated","x":161,"y":32},{"s":"Non-stimulated","x":183,"y":24},{"s":"Non-stimulated","x":209,"y":18},{"s":"Non-stimulated","x":246,"y":14},{"s":"Non-stimulated","x":281,"y":11},{"s":"Non-stimulated","x":320,"y":7},{"s":"Non-stimulated","x":365,"y":4},{"s":"Non-stimulated","x":430,"y":2},{"s":"Non-stimulated","x":506,"y":0.5},{"s":"Non-stimulated","x":597,"y":0},
   {"s":"Pyl A","x":13.8,"y":0},{"s":"Pyl A","x":15.7,"y":5},{"s":"Pyl A","x":17.9,"y":9},{"s":"Pyl A","x":24,"y":9},{"s":"Pyl A","x":27.4,"y":13},{"s":"Pyl A","x":31.3,"y":15},{"s":"Pyl A","x":43.4,"y":15},{"s":"Pyl A","x":47.9,"y":17},{"s":"Pyl A","x":54.6,"y":20},{"s":"Pyl A","x":62.2,"y":25},{"s":"Pyl A","x":70.9,"y":32},{"s":"Pyl A","x":80.8,"y":38},{"s":"Pyl A","x":92.1,"y":48},{"s":"Pyl A","x":105,"y":58},{"s":"Pyl A","x":120,"y":63},{"s":"Pyl A","x":132,"y":66},{"s":"Pyl A","x":146,"y":72},{"s":"Pyl A","x":161,"y":64},{"s":"Pyl A","x":177,"y":60},{"s":"Pyl A","x":196,"y":52},{"s":"Pyl A","x":216,"y":44},{"s":"Pyl A","x":238,"y":36},{"s":"Pyl A","x":263,"y":28},{"s":"Pyl A","x":290,"y":22},{"s":"Pyl A","x":320,"y":15},{"s":"Pyl A","x":353,"y":10},{"s":"Pyl A","x":390,"y":6},{"s":"Pyl A","x":445,"y":4},{"s":"Pyl A","x":524,"y":2.5},{"s":"Pyl A","x":637,"y":1.5},{"s":"Pyl A","x":828,"y":1},{"s":"Pyl A","x":1148,"y":0}
  ]},
  "encoding": {
   "x": {"field": "x", "type": "quantitative", "title": null, "scale": {"type": "log", "domain": [1, 10000], "nice": false},
     "axis": {"values": [1,2,3,4,5,6,7,8,9,10,20,30,40,50,60,70,80,90,100,200,300,400,500,600,700,800,900,1000,2000,3000,4000,5000,6000,7000,8000,9000,10000],
       "labelExpr": "datum.value == 1 ? '10⁰' : datum.value == 10 ? '10¹' : datum.value == 100 ? '10²' : datum.value == 1000 ? '10³' : ''",
       "tickSize": {"condition": {"test": "datum.value == 1 || datum.value == 10 || datum.value == 100 || datum.value == 1000 || datum.value == 10000", "value": 5}, "value": 3},
       "tickWidth": 1.5, "domain": false, "labelFontSize": 12, "labelPadding": 9}},
   "y": {"field": "y", "type": "quantitative", "title": "Cells", "scale": {"domain": [0, 100], "nice": false},
     "axis": {"values": [0,4,8,12,16,20,24,28,32,36,40,44,48,52,56,60,64,68,72,76,80,84,88,92,96,100],
       "labelExpr": "datum.value % 20 == 0 ? datum.label : ''",
       "tickSize": {"condition": {"test": "datum.value % 20 == 0", "value": 5}, "value": 3},
       "tickWidth": 1.5, "domain": false, "labelFontSize": 12.5, "labelPadding": 3, "titleFontSize": 12.5, "titlePadding": 10}}
  },
  "layer": [
   {"transform": [{"filter": "datum.s == 'Isotype control'"}], "mark": {"type": "area", "opacity": 1},
    "encoding": {"fill": {"field": "s", "type": "nominal", "scale": {"domain": ["Isotype control"], "range": ["black"]},
      "legend": {"title": null, "orient": "none", "legendX": 1, "legendY": 363, "symbolType": "square", "symbolSize": 484, "symbolStrokeColor": "black", "symbolStrokeWidth": 0, "labelExpr": "''", "labelFontSize": 12.5}}}},
   {"transform": [{"filter": "datum.s != 'Isotype control'"}], "mark": {"type": "line", "color": "black", "strokeWidth": 2},
    "encoding": {"strokeDash": {"field": "s", "type": "nominal",
      "scale": {"domain": ["Pyl A", "Non-stimulated", "Isotype control"], "range": [[1, 0], [2, 1.5], [0, 100]]},
      "legend": {"title": "CD11b-PE", "orient": "none", "legendX": 1, "legendY": 296, "symbolType": "stroke", "symbolSize": 484, "symbolStrokeWidth": 3.5, "symbolStrokeColor": "black", "labelFontSize": 12.5, "titleFontSize": 12.5, "titlePadding": 13, "rowPadding": -4, "labelOffset": 20}}}},
   {"data": {"values": [{"x0": 1, "x1": 10000, "y0": 0, "y1": 100}]},
    "mark": {"type": "rect", "fill": "transparent", "stroke": "black", "strokeWidth": 2},
    "encoding": {"x": {"field": "x0", "type": "quantitative", "title": null}, "x2": {"field": "x1"}, "y": {"field": "y0", "type": "quantitative", "title": "Cells"}, "y2": {"field": "y1"}}}
  ]
 }
]
}
